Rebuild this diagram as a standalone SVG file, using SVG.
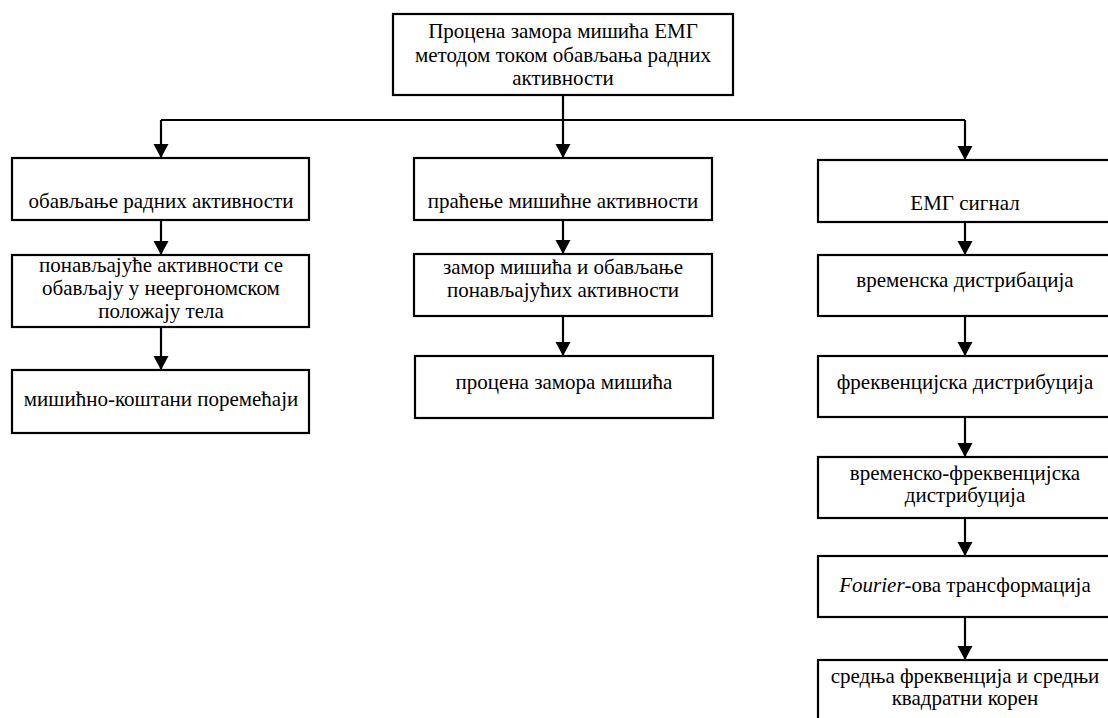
<svg xmlns="http://www.w3.org/2000/svg" width="1108" height="718" viewBox="0 0 1108 718">
  <defs>
    <marker id="arrow" markerUnits="userSpaceOnUse" markerWidth="15" markerHeight="16" refX="14" refY="8" orient="auto">
      <path d="M0,0.5 L14,8 L0,15.5 z" fill="#000"/>
    </marker>
    <style>
      .box { fill: #fff; stroke: #000; stroke-width: 2.2; }
      .lbl { font-family: "Liberation Serif", "Times New Roman", serif; font-size: 21px; fill: #000; text-anchor: middle; }
      .wire { fill: none; stroke: #000; stroke-width: 2.2; }
      .arr { fill: none; stroke: #000; stroke-width: 2.2; marker-end: url(#arrow); }
    </style>
  </defs>
  <rect width="1108" height="718" fill="#fff"/>

  <!-- connectors: trunk, branch bar and the arrows inside each column -->
  <g id="connectors">
    <path class="wire" d="M563,95 V120 M161,120 H965"/>
    <path class="arr" d="M161,120 V158"/>
    <path class="arr" d="M563,120 V158"/>
    <path class="arr" d="M965,120 V160"/>
    <!-- left column -->
    <path class="arr" d="M161,220 V255"/>
    <path class="arr" d="M161,327 V370"/>
    <!-- middle column -->
    <path class="arr" d="M563,220 V254"/>
    <path class="arr" d="M563,316 V356"/>
    <!-- right column -->
    <path class="arr" d="M965,222 V255"/>
    <path class="arr" d="M965,316 V356"/>
    <path class="arr" d="M965,417 V457"/>
    <path class="arr" d="M965,518 V556"/>
    <path class="arr" d="M965,617 V660"/>
  </g>

  <!-- root -->
  <g id="root">
    <rect class="box" x="393" y="14" width="340" height="81"/>
    <text class="lbl" x="563" y="38">Процена замора мишића ЕМГ</text>
    <text class="lbl" x="563" y="61.5">методом током обављања радних</text>
    <text class="lbl" x="563" y="85">активности</text>
  </g>

  <!-- left branch -->
  <g id="work">
    <rect class="box" x="12" y="158" width="297" height="62"/>
    <text class="lbl" x="161" y="208">обављање радних активности</text>
  </g>
  <g id="posture">
    <rect class="box" x="12" y="255" width="297" height="72"/>
    <text class="lbl" x="161" y="272">понављајуће активности се</text>
    <text class="lbl" x="161" y="295">обављају у неергономском</text>
    <text class="lbl" x="161" y="318">положају тела</text>
  </g>
  <g id="disorders">
    <rect class="box" x="12" y="370" width="297" height="63"/>
    <text class="lbl" x="161" y="406">мишићно-коштани поремећаји</text>
  </g>

  <!-- middle branch -->
  <g id="monitoring">
    <rect class="box" x="414" y="158" width="298" height="62"/>
    <text class="lbl" x="563" y="208">праћење мишићне активности</text>
  </g>
  <g id="fatigue">
    <rect class="box" x="414" y="254" width="298" height="62"/>
    <text class="lbl" x="563" y="274">замор мишића и обављање</text>
    <text class="lbl" x="563" y="297">понављајућих активности</text>
  </g>
  <g id="assessment">
    <rect class="box" x="415" y="356" width="298" height="62"/>
    <text class="lbl" x="564" y="389">процена замора мишића</text>
  </g>

  <!-- right branch (boxes run past the right edge) -->
  <g id="emg">
    <rect class="box" x="818" y="160" width="294" height="62"/>
    <text class="lbl" x="965" y="210">ЕМГ сигнал</text>
  </g>
  <g id="time">
    <rect class="box" x="818" y="255" width="294" height="61"/>
    <text class="lbl" x="965" y="287">временска дистрибација</text>
  </g>
  <g id="freq">
    <rect class="box" x="818" y="356" width="294" height="61"/>
    <text class="lbl" x="965" y="389">фреквенцијска дистрибуција</text>
  </g>
  <g id="timefreq">
    <rect class="box" x="818" y="457" width="294" height="61"/>
    <text class="lbl" x="965" y="480">временско-фреквенцијска</text>
    <text class="lbl" x="965" y="502">дистрибуција</text>
  </g>
  <g id="fourier">
    <rect class="box" x="818" y="556" width="294" height="61"/>
    <text class="lbl" x="965" y="592"><tspan font-style="italic">Fourier</tspan>-ова трансформација</text>
  </g>
  <g id="mean">
    <rect class="box" x="818" y="660" width="294" height="70"/>
    <text class="lbl" x="965" y="683">средња фреквенција и средњи</text>
    <text class="lbl" x="965" y="705">квадратни корен</text>
  </g>
</svg>
